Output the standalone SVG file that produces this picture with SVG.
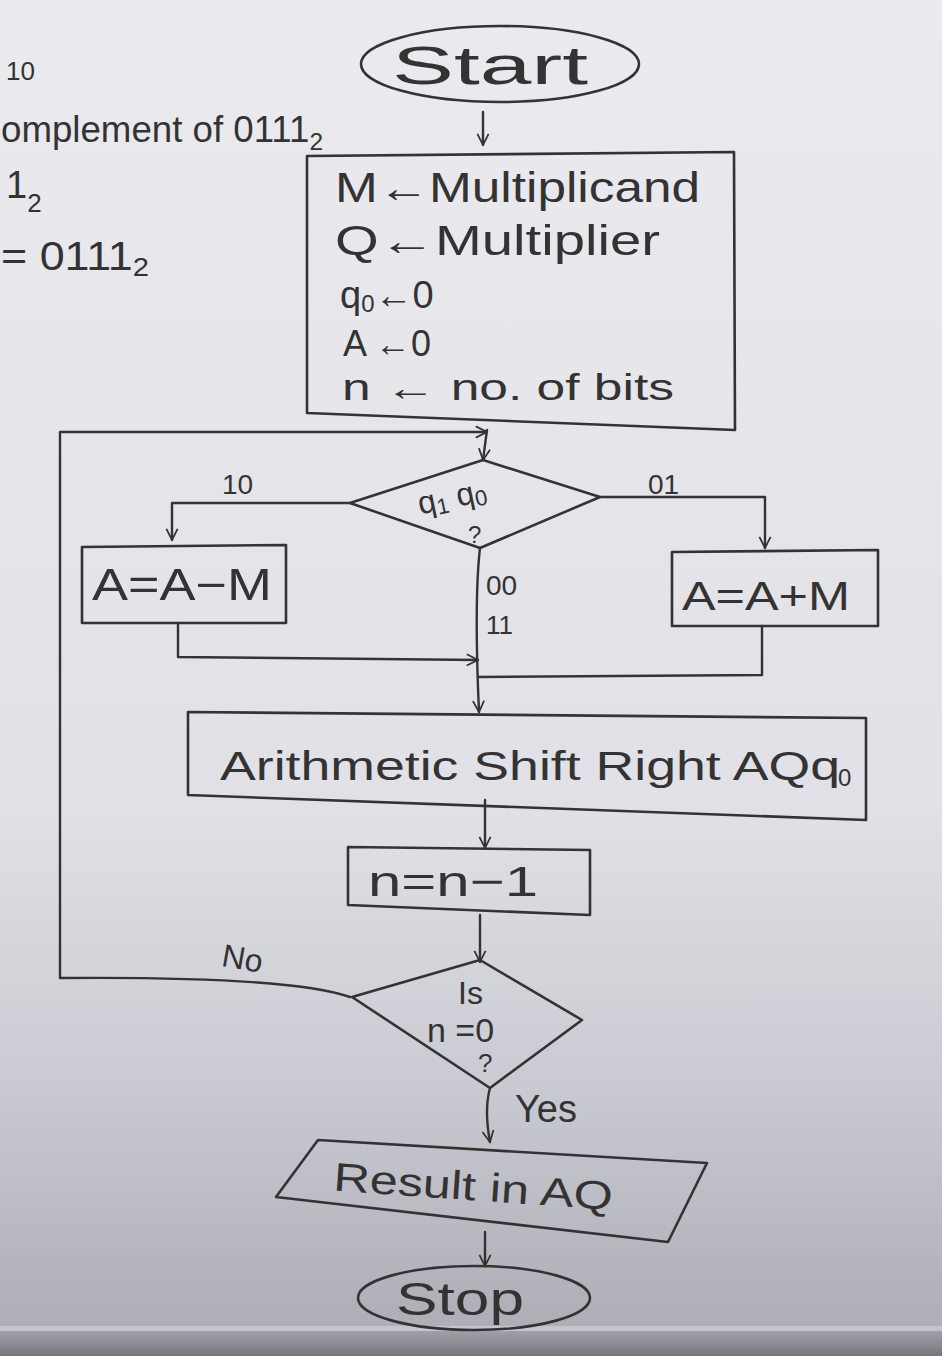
<svg xmlns="http://www.w3.org/2000/svg" width="942" height="1356" viewBox="0 0 942 1356">
<defs>
<linearGradient id="bg" x1="0" y1="0" x2="0" y2="1">
<stop offset="0" stop-color="#ebebef"/>
<stop offset="0.6" stop-color="#e0e0e6"/>
<stop offset="0.8" stop-color="#cacad2"/>
<stop offset="0.97" stop-color="#afafb7"/>
</linearGradient>
<linearGradient id="bar" x1="0" y1="0" x2="0" y2="1">
<stop offset="0" stop-color="#a0a0a8"/>
<stop offset="1" stop-color="#76767e"/>
</linearGradient>
<marker id="ah" viewBox="0 0 20 20" refX="18" refY="10" markerWidth="14" markerHeight="14" markerUnits="userSpaceOnUse" orient="auto">
<path d="M2,2 L18,10 L2,18" fill="none" stroke="#333" stroke-width="2.5"/>
</marker>
</defs>
<style>
.s{fill:none;stroke:#333;stroke-width:2.6;stroke-linecap:round;stroke-linejoin:round}
.t{font-family:"Liberation Sans","DejaVu Sans",sans-serif;fill:#333;font-weight:normal}
.c{stroke:#333;stroke-width:2.4;fill:none;stroke-linecap:round;stroke-linejoin:round}
</style>
<rect x="0" y="0" width="942" height="1356" fill="url(#bg)"/>
<rect x="0" y="1326" width="942" height="5" fill="#c4c4cc"/>
<rect x="0" y="1331" width="942" height="25" fill="url(#bar)"/>

<g id="notes">
<text class="t" x="6" y="80" font-size="26">10</text>
<text class="t" x="1" y="142" font-size="36" textLength="322" lengthAdjust="spacingAndGlyphs">omplement of 0111<tspan font-size="24" dy="8">2</tspan></text>
<text class="t" x="6" y="198" font-size="38">1<tspan font-size="26" dy="14">2</tspan></text>
<text class="t" x="1" y="270" font-size="40" textLength="148" lengthAdjust="spacingAndGlyphs">= 0111<tspan font-size="26" dy="6">2</tspan></text>
</g>

<g id="start">
<ellipse class="s" cx="500" cy="64" rx="139" ry="38"/>
<text class="t" x="392" y="84" font-size="54" textLength="196" lengthAdjust="spacingAndGlyphs">Start</text>
</g>

<g id="init">
<path class="s" d="M307,156 L734,152 L735,430 L307,413 Z"/>
<text class="t" x="335" y="202" font-size="42" textLength="365" lengthAdjust="spacingAndGlyphs">M←Multiplicand</text>
<text class="t" x="335" y="255" font-size="42" textLength="325" lengthAdjust="spacingAndGlyphs">Q←Multiplier</text>
<text class="t" x="340" y="308" font-size="38">q<tspan font-size="24" dy="4">0</tspan><tspan dy="-4">←0</tspan></text>
<text class="t" x="343" y="356" font-size="36">A ←0</text>
<text class="t" x="342" y="400" font-size="36" textLength="332" lengthAdjust="spacingAndGlyphs">n ← no. of bits</text>
</g>

<g id="decide1">
<path class="s" d="M483,460 L600,497 L480,548 L350,503 Z"/>
<text class="t" x="418" y="508" font-size="32" transform="rotate(-12 450 500)">q<tspan font-size="22" dy="4">1</tspan><tspan dy="-4"> q</tspan><tspan font-size="22" dy="4">0</tspan></text>
<text class="t" x="468" y="543" font-size="24">?</text>
</g>

<g id="sub">
<path class="s" d="M82,547 L286,545 L286,623 L82,623 Z"/>
<text class="t" x="92" y="600" font-size="44" textLength="180" lengthAdjust="spacingAndGlyphs">A=A−M</text>
</g>

<g id="add">
<path class="s" d="M672,552 L878,550 L878,626 L672,626 Z"/>
<text class="t" x="682" y="610" font-size="40" textLength="168" lengthAdjust="spacingAndGlyphs">A=A+M</text>
</g>

<g id="shift">
<path class="s" d="M188,712 L866,718 L866,820 L188,795 Z"/>
<text class="t" x="220" y="780" font-size="40" textLength="620" lengthAdjust="spacingAndGlyphs">Arithmetic Shift Right AQq</text>
<text class="t" x="838" y="786" font-size="24">0</text>
</g>

<g id="dec">
<path class="s" d="M348,847 L590,850 L590,915 L348,905 Z"/>
<text class="t" x="368" y="896" font-size="42" textLength="170" lengthAdjust="spacingAndGlyphs">n=n−1</text>
</g>

<g id="decide2">
<path class="s" d="M480,960 L582,1020 L490,1088 L352,997 Z"/>
<text class="t" x="458" y="1004" font-size="32">Is</text>
<text class="t" x="427" y="1042" font-size="34">n =0</text>
<text class="t" x="478" y="1072" font-size="26">?</text>
</g>

<g id="result">
<path class="s" d="M318,1140 L707,1163 L668,1242 L276,1197 Z"/>
<text class="t" x="333" y="1200" font-size="40" textLength="280" lengthAdjust="spacingAndGlyphs" transform="rotate(4 470 1190)">Result in AQ</text>
</g>

<g id="stop">
<ellipse class="s" cx="474" cy="1298" rx="116" ry="32"/>
<text class="t" x="396" y="1315" font-size="46" textLength="128" lengthAdjust="spacingAndGlyphs">Stop</text>
</g>

<g id="connectors">
<path class="c" d="M483,112 L483,145" marker-end="url(#ah)"/>
<path class="c" d="M487,430 L483,460" marker-end="url(#ah)"/>
<path class="c" d="M350,997 Q290,976 60,978 L60,432 L487,432" marker-end="url(#ah)"/>
<path class="c" d="M350,503 L172,503 L172,540" marker-end="url(#ah)"/>
<path class="c" d="M600,497 L765,497 L765,548" marker-end="url(#ah)"/>
<path class="c" d="M480,548 Q474,600 479,712" marker-end="url(#ah)"/>
<path class="c" d="M178,623 L178,657 L478,660" marker-end="url(#ah)"/>
<path class="c" d="M762,626 L762,675 L478,677"/>
<path class="c" d="M485,800 L485,848" marker-end="url(#ah)"/>
<path class="c" d="M480,915 L480,962" marker-end="url(#ah)"/>
<path class="c" d="M490,1088 Q484,1110 490,1142" marker-end="url(#ah)"/>
<path class="c" d="M485,1232 L485,1266" marker-end="url(#ah)"/>
<text class="t" x="222" y="494" font-size="28">10</text>
<text class="t" x="648" y="494" font-size="28">01</text>
<text class="t" x="486" y="595" font-size="28">00</text>
<text class="t" x="486" y="634" font-size="26">11</text>
<text class="t" x="222" y="970" font-size="32" transform="rotate(10 245 960)">No</text>
<text class="t" x="515" y="1122" font-size="38">Yes</text>
</g>
</svg>
